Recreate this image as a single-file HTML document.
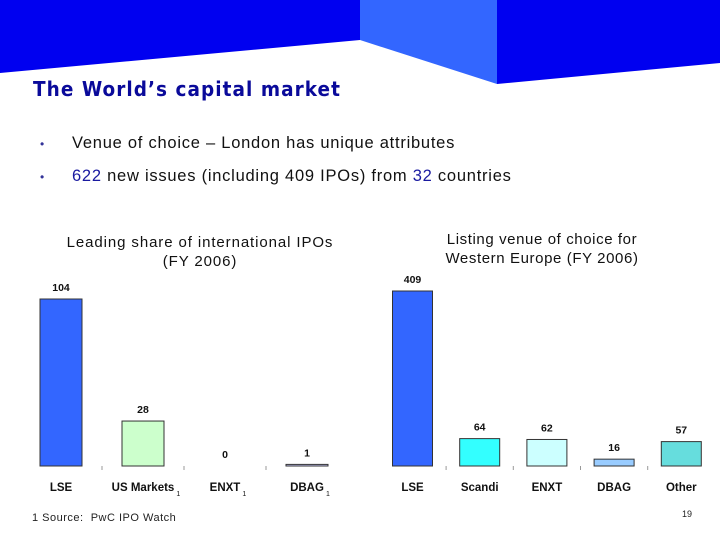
<!DOCTYPE html>
<html><head><meta charset="utf-8"><style>
body{margin:0;width:720px;height:540px;overflow:hidden;background:#fff;font-family:"Liberation Sans",sans-serif;position:relative}
.t{position:absolute;white-space:nowrap}
</style></head><body>
<svg width="720" height="90" style="position:absolute;left:0;top:0">
<polygon points="0,0 360,0 360,40 0,73" fill="#0000F0"/>
<polygon points="360,0 497,0 497,84 360,40" fill="#3366FF"/>
<polygon points="497,0 720,0 720,63 497,84" fill="#0000F0"/>
</svg>
<div class="t" style="left:33px;top:77px;font-family:'DejaVu Sans Condensed','DejaVu Sans',sans-serif;font-weight:bold;font-size:20.5px;letter-spacing:1.05px;color:#0a0a9a">The World’s capital market</div>
<div class="t" style="left:40px;top:134px;font-size:16.5px;letter-spacing:0.75px;color:#111"><span style="color:#333399;font-size:12px">•</span><span style="position:absolute;left:32px">Venue of choice – London has unique attributes</span></div>
<div class="t" style="left:40px;top:167px;font-size:16.5px;letter-spacing:0.75px;color:#111"><span style="color:#333399;font-size:12px">•</span><span style="position:absolute;left:32px"><span style="color:#1a1aa0">622</span> new issues (including 409 IPOs) from <span style="color:#1a1aa0">32</span> countries</span></div>
<div class="t" style="left:50px;top:233px;width:300px;text-align:center;font-size:15px;letter-spacing:0.9px;line-height:19px;color:#111;white-space:normal">Leading share of international IPOs<br>(FY 2006)</div>
<div class="t" style="left:392px;top:230px;width:300px;text-align:center;font-size:15px;letter-spacing:0.6px;line-height:19px;color:#111;white-space:normal">Listing venue of choice for<br>Western Europe (FY 2006)</div>
<svg id="ch" width="720" height="540" style="position:absolute;left:0;top:0"></svg>
<div class="t" style="left:32px;top:512px;font-size:11px;letter-spacing:0.5px;color:#222">1 Source:&nbsp; PwC IPO Watch</div>
<div class="t" style="left:682px;top:509px;font-size:9px;color:#222">19</div>
<script>
const leftCats=["LSE","US Markets","ENXT","DBAG"];
const leftVals=[104,28,0,1];
const leftSup=["","1","1","1"];
const rightCats=["LSE","Scandi","ENXT","DBAG","Other"];
const rightVals=[409,64,62,16,57];
const leftColors=["#3366FF","#CCFFCC","#FFFFFF","#CCCCFF"];
const rightColors=["#3366FF","#33FFFF","#CCFFFF","#99CCFF","#66DDDD"];
const svg=document.getElementById('ch');const NS="http://www.w3.org/2000/svg";
function mk(t,a){const e=document.createElementNS(NS,t);for(const k in a)e.setAttribute(k,a[k]);svg.appendChild(e);return e;}
function chart(cats,vals,colors,sup,x0,step,bw,scale,prefix){
 const base=466;
 cats.forEach((c,i)=>{
  const cx=x0+step*i;const h=vals[i]*scale;
  if(vals[i]>0){const r=mk('rect',{x:cx-bw/2,y:base-h,width:bw,height:h,fill:colors[i],stroke:'#333',"stroke-width":1});
  
  }
  const v=mk('text',{x:cx,y:base-h-8,"text-anchor":"middle","font-size":10.5,"font-weight":"bold",fill:"#111"});v.textContent=vals[i];
  
  
  const l=mk('text',{x:cx,y:491,"text-anchor":"middle","font-size":11.5,"font-weight":"bold",fill:"#111"});l.textContent=c;
  
  
  if(sup&&sup[i]){const s=mk('text',{x:cx+l.getComputedTextLength()/2+2,y:496,"font-size":7,fill:"#111"});s.textContent=sup[i];
  
  }
  if(i>0){const t=mk('line',{x1:cx-step/2,x2:cx-step/2,y1:466,y2:470,stroke:'#999'});
  
  }
 });
}
chart(leftCats,leftVals,leftColors,leftSup,61,82,42,167/104,'left');
chart(rightCats,rightVals,rightColors,null,412.5,67.2,40,175/409,'right');
</script>
</body></html>
